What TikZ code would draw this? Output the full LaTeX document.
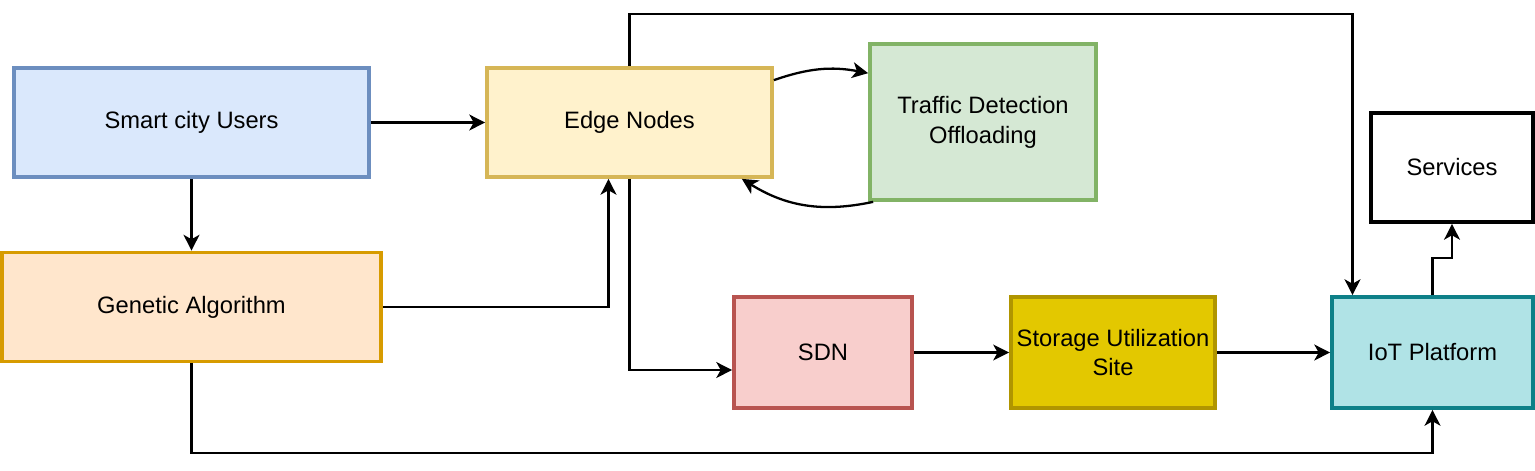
\documentclass[tikz,border=0pt]{standalone}
\usepackage{fontspec}
\setmainfont{Liberation Sans}
\usetikzlibrary{arrows.meta, positioning}
\definecolor{usersF}{HTML}{DAE8FC}\definecolor{usersD}{HTML}{6C8EBF}
\definecolor{gaF}{HTML}{FFE6CC}\definecolor{gaD}{HTML}{D79B00}
\definecolor{edgeF}{HTML}{FFF2CC}\definecolor{edgeD}{HTML}{D6B656}
\definecolor{trafF}{HTML}{D5E8D4}\definecolor{trafD}{HTML}{82B366}
\definecolor{sdnF}{HTML}{F8CECC}\definecolor{sdnD}{HTML}{B85450}
\definecolor{storF}{HTML}{E3C800}\definecolor{storD}{HTML}{B09500}
\definecolor{iotF}{HTML}{B0E3E6}\definecolor{iotD}{HTML}{0E8088}
\tikzstyle{boxNode} = [rectangle, minimum height=2.18cm, text centered, align=center, line width=2.1pt, draw=black, font=\fontsize{13.5}{17}\selectfont]
\tikzstyle{boxUsers} = [boxNode, draw=usersD, fill=usersF, minimum width=7.1cm]
\tikzstyle{boxGA} = [boxNode, draw=gaD, fill=gaF, minimum width=7.58cm]
\tikzstyle{boxEdge} = [boxNode, draw=edgeD, fill=edgeF, minimum width=5.7cm]
\tikzstyle{boxTraf} = [boxNode, draw=trafD, fill=trafF, minimum width=4.52cm, minimum height=3.12cm]
\tikzstyle{boxSDN} = [boxNode, draw=sdnD, fill=sdnF, minimum width=3.56cm, minimum height=2.22cm]
\tikzstyle{boxStor} = [boxNode, draw=storD, fill=storF, minimum width=4cm, minimum height=2.22cm]
\tikzstyle{boxIoT} = [boxNode, draw=iotD, fill=iotF, minimum width=4.02cm, minimum height=2.22cm]
\tikzstyle{boxServ} = [boxNode, fill=white, minimum width=3.24cm]
\tikzstyle{arrow} = [line width=1.3pt, -{Stealth[length=9pt, width=9pt, inset=2.5pt]}, draw=black]

\begin{document}
\begin{tikzpicture}
    \useasboundingbox (0,0) rectangle (30.7,-9.4);
    \node (users) [boxUsers] at (3.83,-2.45) {Smart city Users};
    \node (ga) [boxGA] at (3.83,-6.14) {Genetic Algorithm};
    \node (edge) [boxEdge] at (12.59,-2.45) {Edge Nodes};
    \node (traf) [boxTraf] at (19.66,-2.44) {Traffic Detection\\Offloading};
    \node (sdn) [boxSDN] at (16.46,-7.05) {SDN};
    \node (stor) [boxStor] at (22.26,-7.05) {Storage Utilization\\Site};
    \node (iot) [boxIoT] at (28.65,-7.05) {IoT Platform};
    \node (serv) [boxServ] at (29.04,-3.35) {Services};
    \coordinate (topc) at (0,-0.28);
    \coordinate (botc) at (0,-9.06);

    \draw [arrow] (users) -- (edge);
    \draw [arrow] (users) -- (ga);
    \draw [arrow] (ga) -| ([xshift=-0.42cm]edge.south);
    \draw [arrow] (edge.north) -- (edge.north |- topc) -| ([xshift=-1.6cm]iot.north);
    \draw [arrow] (edge.south) |- ([yshift=-0.35cm]sdn.west);
    \draw [arrow] ([yshift=-0.28cm]edge.north east) to[bend left=15] ([yshift=-0.62cm]traf.north west);
    \draw [arrow] ([xshift=0.1cm]traf.south west) to[bend left=22] ([xshift=-0.64cm]edge.south east);
    \draw [arrow] (sdn) -- (stor);
    \draw [arrow] (stor) -- (iot);
    \draw [arrow] (ga.south) -- (ga.south |- botc) -| (iot.south);
    \draw [arrow] (iot.north) -- ++(0,0.74) -| (serv.south);

\end{tikzpicture}
\end{document}
